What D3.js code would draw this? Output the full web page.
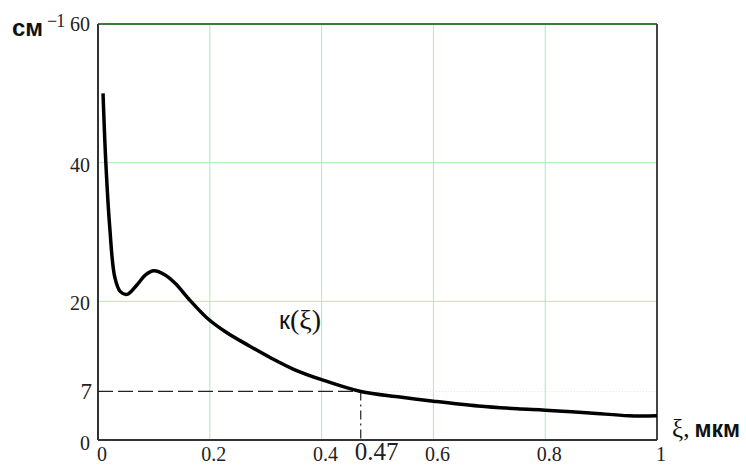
<!DOCTYPE html>
<html>
<head>
<meta charset="utf-8">
<script src="https://cdn.jsdelivr.net/npm/d3@7"></script>
<style>
  body { margin: 0; background: #fff; }
</style>
</head>
<body>
<div id="graphic"></div>
<script>
// data
const xi = [0.009, 0.014, 0.021, 0.03, 0.04, 0.052, 0.07, 0.085, 0.1, 0.12, 0.138, 0.165, 0.195, 0.23, 0.27, 0.31, 0.35, 0.4, 0.47, 0.54, 0.6, 0.68, 0.75, 0.8, 0.88, 0.95, 1.0];
const kappa = [50, 40, 30.7, 23.5, 21.4, 21.0, 22.4, 23.8, 24.4, 23.8, 22.6, 20.1, 17.6, 15.5, 13.6, 11.8, 10.2, 8.7, 7.0, 6.2, 5.6, 4.9, 4.5, 4.3, 3.9, 3.5, 3.5];
const xTicks = [0, 0.2, 0.4, 0.6, 0.8, 1];
const yTicks = [0, 20, 40, 60];
const markX = 0.47;
const markY = 7;

const margin = {top: 24, right: 89, bottom: 26, left: 98};
const width = 746 - margin.left - margin.right;
const height = 466 - margin.top - margin.bottom;

const svg = d3.select("#graphic")
    .append("svg")
    .attr("width", 746)
    .attr("height", 466)
    .append("g")
        .attr("transform", `translate(${margin.left}, ${margin.top})`);

const x = d3.scaleLinear().domain([0, 1]).range([0, width]);
const y = d3.scaleLinear().domain([0, 60]).range([height, 0]);

const serif = "'Liberation Serif', 'Times New Roman', serif";
const sans = "'Liberation Sans', Arial, sans-serif";

// grid
svg.append("g")
    .selectAll("line")
    .data(xTicks.slice(1, -1))
    .join("line")
    .attr("x1", d => x(d)).attr("x2", d => x(d))
    .attr("y1", 0).attr("y2", height)
    .style("stroke", "#a8eea8")
    .style("stroke-width", 1);

svg.append("g")
    .selectAll("line")
    .data(yTicks.slice(1, -1))
    .join("line")
    .attr("x1", 0).attr("x2", width)
    .attr("y1", d => y(d)).attr("y2", d => y(d))
    .style("stroke", "#a8eea8")
    .style("stroke-width", 1);

// faint line at 7 on the right part
svg.append("line")
    .attr("x1", x(markX)).attr("x2", width)
    .attr("y1", y(markY)).attr("y2", y(markY))
    .style("stroke", "#e4e4e4")
    .style("stroke-width", 1)
    .style("stroke-dasharray", "1,2");

// frame
svg.append("line")
    .attr("x1", 0).attr("x2", width)
    .attr("y1", y(60)).attr("y2", y(60))
    .style("stroke", "#3a7a3a")
    .style("stroke-width", 2);
svg.append("line")
    .attr("x1", 0).attr("x2", 0)
    .attr("y1", 0).attr("y2", height)
    .style("stroke", "#333")
    .style("stroke-width", 2);
svg.append("line")
    .attr("x1", width).attr("x2", width)
    .attr("y1", 0).attr("y2", height)
    .style("stroke", "#444")
    .style("stroke-width", 2);
svg.append("line")
    .attr("x1", 0).attr("x2", width)
    .attr("y1", height).attr("y2", height)
    .style("stroke", "#333")
    .style("stroke-width", 2);

// dashed markers
svg.append("line")
    .attr("x1", 0).attr("x2", x(markX))
    .attr("y1", y(markY)).attr("y2", y(markY))
    .style("stroke", "#222")
    .style("stroke-width", 1.2)
    .style("stroke-dasharray", "15,5");
svg.append("line")
    .attr("x1", x(markX)).attr("x2", x(markX))
    .attr("y1", y(markY)).attr("y2", height)
    .style("stroke", "#222")
    .style("stroke-width", 1.2)
    .style("stroke-dasharray", "9,4,2,4");

// curve
const line = d3.line()
    .x((d, i) => x(xi[i]))
    .y(d => y(d))
    .curve(d3.curveCatmullRom);

svg.append("path")
    .datum(kappa)
    .attr("d", line)
    .style("fill", "none")
    .style("stroke", "#000")
    .style("stroke-width", 3.5)
    .style("stroke-linejoin", "round");

// x tick labels
svg.append("g")
    .selectAll("text")
    .data(xTicks)
    .join("text")
    .attr("x", d => x(d) + 4)
    .attr("y", height + 21)
    .attr("text-anchor", "middle")
    .style("font-family", serif)
    .style("font-size", "20px")
    .style("fill", "#222")
    .text(d => d3.format("")(d));

svg.append("text")
    .attr("x", x(markX) - 6)
    .attr("y", height + 20)
    .style("font-family", serif)
    .style("font-size", "25px")
    .style("fill", "#222")
    .text("0.47");

// y tick labels
svg.append("g")
    .selectAll("text")
    .data(yTicks.slice(1))
    .join("text")
    .attr("x", -8)
    .attr("y", d => y(d) + (d === 60 ? 7 : 9))
    .attr("text-anchor", "end")
    .style("font-family", serif)
    .style("font-size", "20px")
    .style("fill", "#222")
    .text(d => d);

svg.append("text")
    .attr("x", -8)
    .attr("y", height + 10)
    .attr("text-anchor", "end")
    .style("font-family", serif)
    .style("font-size", "20px")
    .style("fill", "#222")
    .text("0");

svg.append("text")
    .attr("x", -6)
    .attr("y", y(markY) + 8)
    .attr("text-anchor", "end")
    .style("font-family", serif)
    .style("font-size", "23px")
    .style("fill", "#222")
    .text(markY);

// unit labels
svg.append("text")
    .attr("x", -86)
    .attr("y", 12)
    .style("font-family", sans)
    .style("font-size", "24px")
    .style("font-weight", "bold")
    .style("fill", "#111")
    .text("см");
svg.append("text")
    .attr("x", -51)
    .attr("y", 3)
    .style("font-family", serif)
    .style("font-size", "18px")
    .style("letter-spacing", "-1px")
    .style("fill", "#222")
    .text("−1");

const unitX = svg.append("text")
    .attr("x", width + 15)
    .attr("y", height - 3)
    .style("fill", "#111");
unitX.append("tspan")
    .style("font-family", serif)
    .style("font-size", "25px")
    .text("ξ,");
unitX.append("tspan")
    .attr("dx", 5)
    .style("font-family", sans)
    .style("font-size", "23px")
    .style("font-weight", "bold")
    .text("мкм");

// curve label
const lbl = svg.append("text")
    .attr("x", x(0.324))
    .attr("y", y(16))
    .style("fill", "#111");
lbl.append("tspan")
    .style("font-family", sans)
    .style("font-size", "25px")
    .text("к");
lbl.append("tspan")
    .style("font-family", serif)
    .style("font-size", "28px")
    .text("(ξ)");
</script>
</body>
</html>
